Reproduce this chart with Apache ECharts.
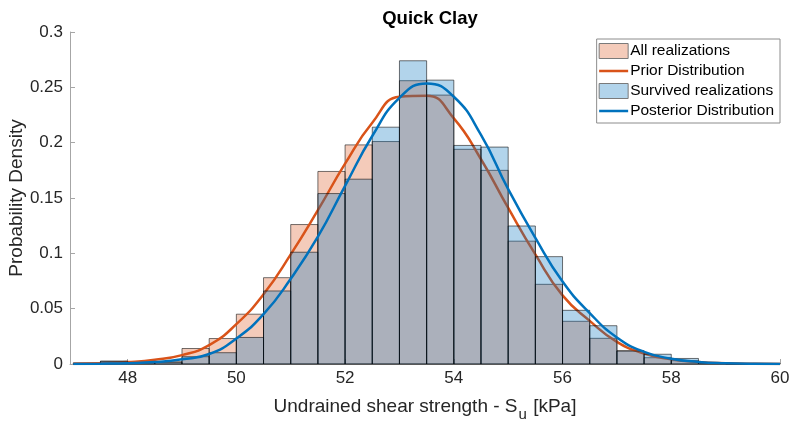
<!DOCTYPE html>
<html>
<head>
<meta charset="utf-8">
<script src="https://cdn.jsdelivr.net/npm/echarts@6/dist/echarts.min.js"></script>
<style>
  html, body { margin: 0; padding: 0; background: #fff; }
  #chart { width: 790px; height: 424px; }
</style>
</head>
<body>
<div id="chart"></div>
<script>
// histogram bins (left edges, width 0.5)
const binLeft = [47, 47.5, 48, 48.5, 49, 49.5, 50, 50.5, 51, 51.5, 52, 52.5, 53,
  53.5, 54, 54.5, 55, 55.5, 56, 56.5, 57, 57.5, 58, 58.5, 59, 59.5]
const binWidth = 0.5
const allDensity = [0.001, 0.0025, 0.0015, 0.002, 0.014, 0.023, 0.045, 0.078, 0.126, 0.174, 0.198, 0.201, 0.256,
  0.243, 0.194, 0.175, 0.111, 0.072, 0.0386, 0.0232, 0.012, 0.0057, 0.003, 0.001, 0.0005, 0.0005]
const survDensity = [0, 0.0025, 0.001, 0.0015, 0.0066, 0.0102, 0.024, 0.066, 0.101, 0.154, 0.167, 0.214, 0.274,
  0.2565, 0.1975, 0.196, 0.1247, 0.097, 0.0485, 0.0346, 0.0117, 0.0088, 0.005, 0.001, 0, 0.0005]

// fitted curves at every 0.5 kPa
const curveX = [47, 47.5, 48, 48.5, 49, 49.5, 50, 50.5, 51, 51.5, 52, 52.5, 53,
  53.5, 54, 54.5, 55, 55.5, 56, 56.5, 57, 57.5, 58, 58.5, 59, 59.5, 60]
const priorY = [0.0003, 0.0007, 0.0017, 0.0038, 0.008, 0.017, 0.036, 0.063, 0.099, 0.139, 0.181, 0.218, 0.2415,
  0.2425, 0.222, 0.185, 0.141, 0.099, 0.062, 0.039, 0.020, 0.0095, 0.0042, 0.0017, 0.0006, 0.0002, 0.0001]
const posteriorY = [0.0001, 0.0003, 0.0007, 0.0017, 0.0042, 0.009, 0.023, 0.045, 0.077, 0.115, 0.161, 0.206, 0.2405,
  0.2535, 0.2415, 0.207, 0.158, 0.114, 0.0745, 0.046, 0.024, 0.011, 0.0048, 0.0019, 0.0007, 0.0002, 0.0001]

const xTicks = [48, 50, 52, 54, 56, 58, 60]

const font = 'Liberation Sans, Arial, sans-serif'
const textColor = '#262626'
const axisColor = '#a6a6a6'

function histData(vals) {
  return binLeft.map((x, i) => [x, x + binWidth, vals[i]])
}

function histSeries(name, vals, fill, z) {
  return {
    name: name,
    type: 'custom',
    z: z,
    itemStyle: { color: fill },
    encode: { x: [0, 1], y: 2 },
    data: histData(vals),
    renderItem: (params, api) => {
      const top = api.coord([api.value(0), api.value(2)])
      const bot = api.coord([api.value(1), 0])
      return {
        type: 'rect',
        shape: { x: top[0], y: top[1], width: bot[0] - top[0], height: bot[1] - top[1] },
        style: { fill: fill, stroke: 'rgba(0,0,0,0.55)', lineWidth: 1 }
      }
    }
  }
}

function curveSeries(name, ys, color, z) {
  return {
    name: name,
    type: 'line',
    z: z,
    smooth: true,
    symbol: 'none',
    lineStyle: { color: color, width: 2.5 },
    itemStyle: { color: color },
    data: curveX.map((x, i) => [x, ys[i]])
  }
}

const lineIcon = 'path://M0,0H30V2.6H0Z'

var myChart = echarts.init(document.getElementById('chart'))
myChart.setOption({
  animation: false,
  textStyle: { fontFamily: font },
  title: {
    text: 'Quick Clay',
    left: 425,
    textAlign: 'center',
    top: 4,
    textStyle: { fontFamily: font, fontSize: 18.5, fontWeight: 'bold', color: '#000' }
  },
  grid: { left: 70, right: 10, top: 32, bottom: 60, outerBoundsMode: 'none', containLabel: false },
  legend: {
    orient: 'vertical',
    right: 10,
    top: 39,
    padding: [4, 6, 4, 2],
    itemGap: 4,
    itemWidth: 29,
    itemHeight: 15,
    borderColor: '#8c8c8c',
    borderWidth: 1,
    backgroundColor: '#fff',
    textStyle: { fontFamily: font, fontSize: 15.5, color: '#000', padding: [0, 0, 0, -3] },
    data: [
      { name: 'All realizations', icon: 'rect', itemStyle: { borderColor: '#7a7a7a', borderWidth: 1 } },
      { name: 'Prior Distribution', icon: lineIcon, itemStyle: { color: '#D95319', borderWidth: 0 } },
      { name: 'Survived realizations', icon: 'rect', itemStyle: { borderColor: '#7a7a7a', borderWidth: 1 } },
      { name: 'Posterior Distribution', icon: lineIcon, itemStyle: { color: '#0072BD', borderWidth: 0 } }
    ]
  },
  xAxis: {
    type: 'value',
    min: 46.94,
    max: 60,
    name: 'Undrained shear strength - S{sub|u} [kPa]',
    nameLocation: 'middle',
    nameGap: 27,
    nameMoveOverlap: false,
    nameTextStyle: {
      fontFamily: font, fontSize: 19, color: textColor,
      rich: { sub: { fontFamily: font, fontSize: 15, color: textColor, padding: [16, 1, 0, 1] } }
    },
    splitLine: { show: false },
    axisLine: { show: true, onZero: false, lineStyle: { color: axisColor } },
    axisTick: { show: true, inside: true, length: 5, customValues: xTicks, lineStyle: { color: axisColor } },
    axisLabel: { customValues: xTicks, margin: 6, fontSize: 17, color: textColor, fontFamily: font }
  },
  yAxis: {
    type: 'value',
    min: 0,
    max: 0.3,
    interval: 0.05,
    name: 'Probability Density',
    nameLocation: 'middle',
    nameGap: 44,
    nameMoveOverlap: false,
    nameTextStyle: { fontFamily: font, fontSize: 19, color: textColor },
    splitLine: { show: false },
    axisLine: { show: true, lineStyle: { color: axisColor } },
    axisTick: { show: true, inside: true, length: 5, lineStyle: { color: axisColor } },
    axisLabel: { margin: 7, fontSize: 17, color: textColor, fontFamily: font }
  },
  series: [
    histSeries('All realizations', allDensity, 'rgba(217,83,25,0.3)', 2),
    curveSeries('Prior Distribution', priorY, '#D95319', 3),
    histSeries('Survived realizations', survDensity, 'rgba(0,114,189,0.3)', 4),
    curveSeries('Posterior Distribution', posteriorY, '#0072BD', 5)
  ]
})
</script>
</body>
</html>
